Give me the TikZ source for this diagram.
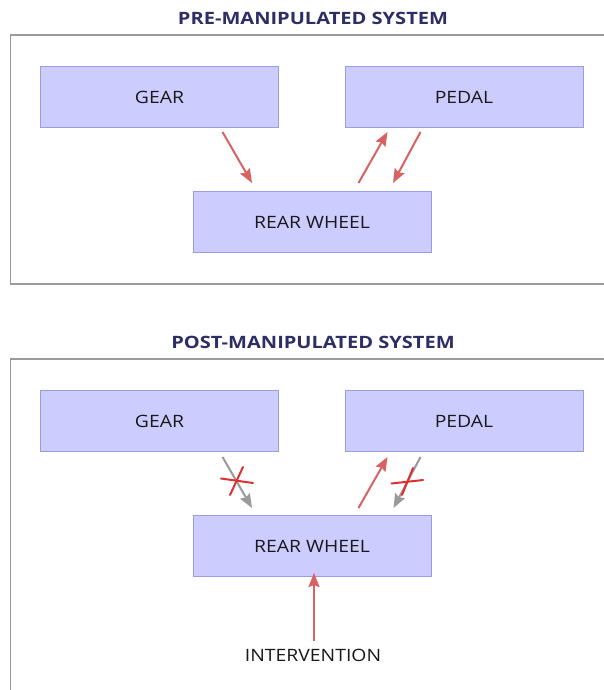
\documentclass[tikz,border=0pt]{standalone}
\usepackage{fontspec}
\setmainfont{Open Sans}[FakeStretch=1.14,BoldFeatures={FakeStretch=1.18}]
\usetikzlibrary{arrows.meta,calc}
\definecolor{boxfill}{HTML}{CCCCFF}
\definecolor{boxline}{HTML}{9C9CE0}
\definecolor{arrred}{HTML}{D86262}
\definecolor{xred}{HTML}{DD3030}
\definecolor{arrgray}{HTML}{9A9A9A}
\definecolor{titlec}{HTML}{2E2E66}
\definecolor{framec}{HTML}{9A9A9A}
\tikzset{
  sysbox/.style={draw=boxline, line width=1pt, fill=boxfill, minimum width=238pt, minimum height=61pt, inner sep=0pt, font=\fontsize{17}{20}\selectfont, text=black!90},
  systitle/.style={font=\bfseries\fontsize{17}{20}\selectfont, text=titlec, inner sep=0pt},
  frame/.style={draw=framec, line width=1.3pt},
  redarr/.style={draw=arrred, line width=2pt, -{Stealth[length=14pt,width=11pt,inset=2pt]}},
  grayarr/.style={draw=arrgray, line width=2pt, -{Stealth[length=14pt,width=11pt,inset=2pt]}},
  xmark/.style={draw=xred, line width=2pt, line cap=round},
  plainlabel/.style={font=\fontsize{17}{20}\selectfont, text=black!90, inner sep=0pt}
}
\begin{document}
\begin{tikzpicture}[x=1pt,y=-1pt]
\useasboundingbox (0,0) rectangle (604,690);
\fill[white] (0,0) rectangle (604,690);
\clip (0,0) rectangle (604,690);
% ---------- top ----------
\node[systitle] (t1) at (313,18) {PRE-MANIPULATED SYSTEM};
\draw[frame] (611,35) -- (10.5,35) -- (10.5,284) -- (611,284);
\node[sysbox] (gear) at (159.5,97) {GEAR};
\node[sysbox] (pedal) at (464,97) {PEDAL};
\node[sysbox] (rear) at (312,222) {REAR WHEEL};
\draw[redarr] ([shift={(-56.5,4)}]gear.south east) -- ([shift={(59.5,-8)}]rear.north west);
\draw[redarr] ([shift={(-73,-8)}]rear.north east) -- ([shift={(43,4)}]pedal.south west);
\draw[redarr] ([shift={(76,4)}]pedal.south west) -- ([shift={(-38.5,-8)}]rear.north east);
% ---------- bottom ----------
\node[systitle] (t2) at (313,342) {POST-MANIPULATED SYSTEM};
\draw[frame] (611,359) -- (10.5,359) -- (10.5,700);
\node[sysbox] (gear2) at (159.5,421) {GEAR};
\node[sysbox] (pedal2) at (464,421) {PEDAL};
\node[sysbox] (rear2) at (312,546) {REAR WHEEL};
\draw[grayarr] ([shift={(-56.5,5)}]gear2.south east) -- ([shift={(59.5,-7)}]rear2.north west);
\draw[redarr] ([shift={(-73,-7)}]rear2.north east) -- ([shift={(43,5)}]pedal2.south west);
\draw[grayarr] ([shift={(76,5)}]pedal2.south west) -- ([shift={(-38,-7)}]rear2.north east);
% crosses
\draw[xmark] (221,478.5) -- (253,483);
\draw[xmark] (243,467) -- (230,495);
\draw[xmark] (391.5,483.5) -- (423,480);
\draw[xmark] (413,468) -- (402,495);
\node[plainlabel] (int) at (313,655) {INTERVENTION};
\draw[redarr] ([shift={(1,-8)}]int.north) -- ([shift={(2,-4)}]rear2.south);
\end{tikzpicture}
\end{document}
